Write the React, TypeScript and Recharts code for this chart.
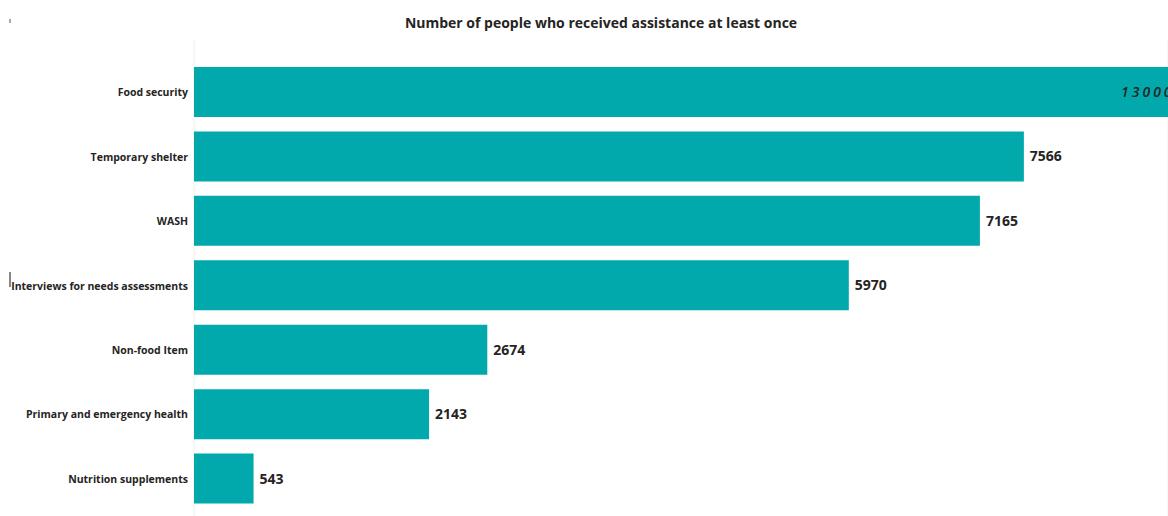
import React from "react";
import { BarChart, Bar, XAxis, YAxis, CartesianGrid, LabelList } from "recharts";

const categories = [
  "Food security",
  "Temporary shelter",
  "WASH",
  "Interviews for needs assessments",
  "Non-food Item",
  "Primary and emergency health",
  "Nutrition supplements",
];
const values = [13000, 7566, 7165, 5970, 2674, 2143, 543];
const xTicks = [0, 1000, 2000, 3000, 4000, 5000, 6000, 7000, 8000];
const X_MAX = 8880;
const title = "Number of people who received assistance at least once";

const data = categories.map((c, i) => ({ name: c, value: values[i] }));

const FONT = "'Open Sans', 'Noto Sans', sans-serif";
const TEXT = "#252423";

const CategoryTick = (props: any) => {
  const { x, y, payload } = props;
  return (
    <text
      x={x}
      y={y}
      dy={4}
      textAnchor="end"
      fill={TEXT}
      fontFamily={FONT}
      fontSize={10.5}
      fontWeight={700}
    >
      {payload.value}
    </text>
  );
};

const ValueLabel = (props: any) => {
  const { x, y, width, height, value } = props;
  const cy = y + height / 2;
  if (value > X_MAX) {
    const plotRight = x + (width * X_MAX) / value;
    return (
      <text
        x={plotRight - 47}
        y={cy}
        dy={5}
        fill={TEXT}
        fontFamily={FONT}
        fontSize={14}
        fontStyle="italic"
        fontWeight={600}
        letterSpacing={3}
        textAnchor="start"
      >
        {value}
      </text>
    );
  }
  return (
    <text
      x={x + width + 6}
      y={cy}
      dy={5}
      fill={TEXT}
      fontFamily={FONT}
      fontSize={14}
      fontWeight={700}
      textAnchor="start"
    >
      {value}
    </text>
  );
};

export default function App() {
  return (
    <div
      style={{
        position: "absolute",
        left: 0,
        top: 0,
        width: 1168,
        height: 516,
        overflow: "hidden",
        background: "#fff",
      }}
    >
      <div
        style={{
          position: "absolute",
          left: 0,
          width: 1202,
          top: 13,
          textAlign: "center",
          fontFamily: FONT,
          fontWeight: 700,
          fontSize: 14,
          color: TEXT,
        }}
      >
        {title}
      </div>
      <div style={{ position: "absolute", left: 9, top: 19, width: 2, height: 4, background: "#aaa" }} />
      <div style={{ position: "absolute", left: 9, top: 272, width: 2, height: 15, background: "#888" }} />
      <BarChart
        width={1168}
        height={516}
        data={data}
        layout="vertical"
        margin={{ top: 40, right: 0, bottom: 0, left: 0 }}
        barSize={50}
      >
        <CartesianGrid horizontal={false} stroke="#efefef" strokeWidth={1} />
        <XAxis
          type="number"
          domain={[0, X_MAX]}
          allowDataOverflow
          ticks={xTicks}
          tick={false}
          axisLine={false}
          tickLine={false}
          height={0}
        />
        <YAxis
          type="category"
          dataKey="name"
          width={194}
          axisLine={false}
          tickLine={false}
          padding={{ top: 20, bottom: 5 }}
          tick={<CategoryTick />}
          tickSize={6}
          tickMargin={0}
          interval={0}
        />
        <Bar dataKey="value" fill="#01A9AC" isAnimationActive={false}>
          <LabelList dataKey="value" content={ValueLabel} />
        </Bar>
      </BarChart>
    </div>
  );
}
